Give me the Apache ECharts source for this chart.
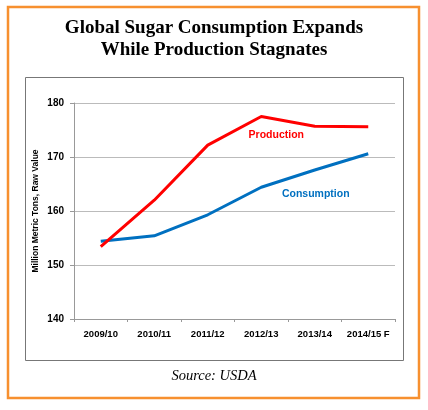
<!DOCTYPE html>
<html><head><meta charset="utf-8">
<style>html,body{margin:0;padding:0;background:#fff}#c{width:428px;height:410px}</style>
<script src="https://cdn.jsdelivr.net/npm/echarts@6/dist/echarts.min.js"></script>
</head><body><div id="c"></div>
<script>
const categories = ['2009/10','2010/11','2011/12','2012/13','2013/14','2014/15 F'];
const production = [153.4, 162.0, 172.2, 177.5, 175.7, 175.6];
const consumption = [154.4, 155.4, 159.3, 164.4, 167.6, 170.6];
const yTicks = [140, 150, 160, 170, 180];

const chart = echarts.init(document.getElementById('c'), null, {renderer: 'canvas'});
function withLabel(arr, idx, text, color, offset) {
  return arr.map((v, i) => i === idx ? {
    value: v,
    label: {show: true, formatter: text, color: color, fontWeight: 'bold', fontSize: 10.5,
      fontFamily: 'Liberation Sans, Arial, sans-serif', position: 'inside', offset: offset}
  } : v);
}
chart.setOption({
  animation: false,
  title: {
    text: 'Global Sugar Consumption Expands\nWhile Production Stagnates',
    left: 'center', top: 12,
    textStyle: {fontFamily: 'Liberation Serif, Times New Roman, serif', fontWeight: 'bold', fontSize: 19, lineHeight: 22, color: '#000'}
  },
  graphic: [
    {type: 'rect', shape: {x: 8, y: 7, width: 411, height: 391}, style: {fill: 'none', stroke: '#F7902F', lineWidth: 2.5}, silent: true},
    {type: 'rect', shape: {x: 25.5, y: 77.5, width: 378, height: 283}, style: {fill: 'none', stroke: '#777', lineWidth: 1}, silent: true},
    {type: 'text', left: 'center', top: 369, style: {text: 'Source: USDA', font: 'italic 14.5px "Liberation Serif", serif', fill: '#000'}}
  ],
  grid: {left: 74, right: 33, top: 103, bottom: 91},
  xAxis: {
    type: 'category', data: categories, boundaryGap: true,
    axisLine: {lineStyle: {color: '#999'}},
    axisTick: {show: true, length: 3, lineStyle: {color: '#999'}},
    axisLabel: {interval: 0, color: '#000', fontWeight: 'bold', fontSize: 9.5, fontFamily: 'Liberation Sans, Arial, sans-serif', margin: 10}
  },
  yAxis: {
    type: 'value', min: yTicks[0], max: yTicks[yTicks.length - 1], interval: 10,
    name: 'Million Metric Tons, Raw Value', nameLocation: 'middle', nameGap: 34, nameRotate: 90, nameMoveOverlap: false,
    nameTextStyle: {color: '#000', fontWeight: 'bold', fontSize: 8.5, fontFamily: 'Liberation Sans, Arial, sans-serif'},
    axisLine: {show: true, lineStyle: {color: '#999'}},
    axisTick: {show: true, length: 4, lineStyle: {color: '#999'}},
    splitLine: {lineStyle: {color: '#bbb'}},
    axisLabel: {color: '#000', fontWeight: 'bold', fontSize: 10, fontFamily: 'Liberation Sans, Arial, sans-serif', margin: 10}
  },
  series: [
    {name: 'Production', type: 'line', data: withLabel(production, 3, 'Production', '#FF0000', [15, 19]),
      symbol: 'circle', symbolSize: 0, showSymbol: true, lineStyle: {color: '#FF0000', width: 3}, itemStyle: {color: '#FF0000'}, z: 3},
    {name: 'Consumption', type: 'line', data: withLabel(consumption, 4, 'Consumption', '#0070C0', [1, 24]),
      symbol: 'circle', symbolSize: 0, showSymbol: true, lineStyle: {color: '#0070C0', width: 3}, itemStyle: {color: '#0070C0'}, z: 2}
  ]
});
</script></body></html>
